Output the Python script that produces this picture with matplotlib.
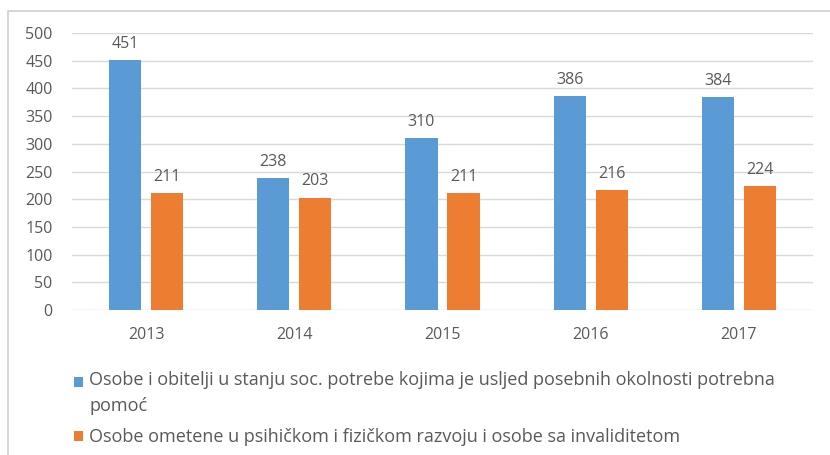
import numpy as np
import matplotlib
matplotlib.use("Agg")
import matplotlib.pyplot as plt
from matplotlib.patches import Rectangle

years = ["2013", "2014", "2015", "2016", "2017"]
pomoc = [451, 238, 310, 386, 384]
invalid = [211, 203, 211, 216, 224]
labels = ["Osobe i obitelji u stanju soc. potrebe kojima je usljed posebnih okolnosti potrebna\npomoć",
          "Osobe ometene u psihičkom i fizičkom razvoju i osobe sa invaliditetom"]

blue = "#5B9BD5"
orange = "#ED7D31"
txt = "#595959"

plt.rcParams['font.family'] = ['Open Sans', 'DejaVu Sans']

W, H = 830, 455
fig = plt.figure(figsize=(W / 100, H / 100), dpi=100)
ax = fig.add_axes([72 / W, 1 - 310 / H, (813 - 72) / W, (310 - 33) / H])

# light frame around the chart area
fig.patches.append(Rectangle((8 / W, -0.1), 1.2, 1.1 - 11 / H, transform=fig.transFigure,
                             fill=False, edgecolor="#D0D0D0", linewidth=1.2))

x = np.arange(len(years))
w = 0.217
off = 0.142
b1 = ax.bar(x - off, pomoc, w, color=blue, label=labels[0], zorder=3)
b2 = ax.bar(x + off, invalid, w, color=orange, label=labels[1], zorder=3)

for bars in (b1, b2):
    ax.bar_label(bars, padding=6, fontsize=11.5, color=txt)

ax.set_xlim(-0.5, len(years) - 0.5)
ax.set_ylim(0, 500)
ax.set_yticks(np.arange(0, 501, 50))
ax.set_xticks(x)
ax.set_xticklabels(years)
ax.tick_params(length=0, labelsize=11.5, labelcolor=txt)
ax.tick_params(axis='y', pad=14)
ax.tick_params(axis='x', pad=12)
ax.grid(axis='y', color="#D9D9D9", linewidth=1, zorder=0)
for s in ax.spines.values():
    s.set_visible(False)

leg = fig.legend(handles=[b1, b2], loc="upper left", bbox_to_anchor=(74 / W, 1 - 371 / H),
                 frameon=False, fontsize=13, handlelength=0.5, handleheight=0.5,
                 handletextpad=0.35, labelspacing=0.72, borderaxespad=0, borderpad=0,
                 labelcolor=txt)
leg.get_texts()[0].set_linespacing(1.6)
# put the first square next to the first text line
h0 = leg.legend_handles[0]
h0.set_y(h0.get_y() + 8.5)

fig.savefig("out.png", dpi=100)
